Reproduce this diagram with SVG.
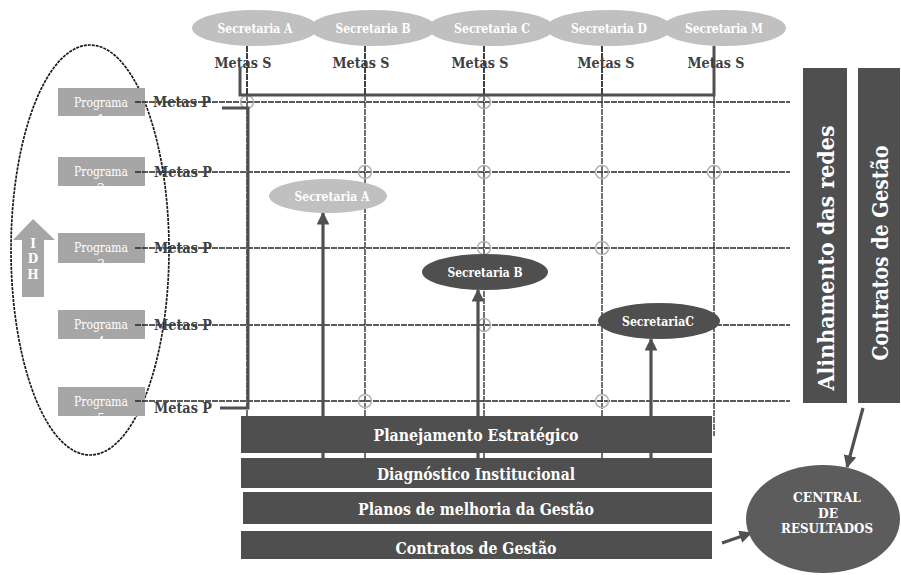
<svg xmlns="http://www.w3.org/2000/svg" width="901" height="575" viewBox="0 0 901 575">
<style>
.lt{fill:#c0c0c0}
.dk{fill:#4f4f4f}
.prog{fill:#a6a6a6}
.wt{fill:#fff;font-family:'DejaVu Serif',serif;font-weight:bold;text-anchor:middle}
.pt{fill:#fff;font-family:'DejaVu Serif',serif;font-size:12.7px;text-anchor:middle}
.lbl{fill:#404040;font-family:'DejaVu Serif',serif;font-weight:bold;font-size:15.4px;text-anchor:middle}
.grid{stroke:#262626;stroke-width:1.3;stroke-dasharray:6 1;fill:none}
.thick{stroke:#505050;stroke-width:3;fill:none}
.circ{stroke:#b4b4b4;stroke-width:1.5;fill:none}
.arr{stroke:#505050;stroke-width:3.2;fill:none;marker-end:url(#ah)}
</style>
<defs>
<marker id="ah" viewBox="0 0 10 10" refX="9" refY="5" markerWidth="4" markerHeight="4" orient="auto" markerUnits="strokeWidth">
<path d="M0,0 L10,5 L0,10 z" fill="#505050"/>
</marker>
<clipPath id="c1"><rect x="58" y="88" width="87" height="28"/></clipPath>
<clipPath id="c2"><rect x="58" y="157" width="87" height="29"/></clipPath>
<clipPath id="c3"><rect x="58" y="233" width="87" height="30"/></clipPath>
<clipPath id="c4"><rect x="58" y="310" width="87" height="29"/></clipPath>
<clipPath id="c5"><rect x="58" y="387" width="87" height="29"/></clipPath>
</defs>
<rect width="901" height="575" fill="#fff"/>

<!-- dashed ellipse -->
<g id="idh-region">
<ellipse cx="90" cy="250" rx="79" ry="205" fill="none" stroke="#1a1a1a" stroke-width="1.7" stroke-dasharray="3 1"/>
</g>

<!-- programs -->
<g id="programa1"><rect class="prog" x="58" y="88" width="87" height="28"/><g clip-path="url(#c1)"><text class="pt" x="101" y="107" textLength="54" lengthAdjust="spacingAndGlyphs">Programa</text><text class="pt" x="101" y="124">1</text></g></g>
<g id="programa2"><rect class="prog" x="58" y="157" width="87" height="29"/><g clip-path="url(#c2)"><text class="pt" x="101" y="176" textLength="54" lengthAdjust="spacingAndGlyphs">Programa</text><text class="pt" x="101" y="193">2</text></g></g>
<g id="programa3"><rect class="prog" x="58" y="233" width="87" height="30"/><g clip-path="url(#c3)"><text class="pt" x="101" y="252" textLength="54" lengthAdjust="spacingAndGlyphs">Programa</text><text class="pt" x="101" y="269">3</text></g></g>
<g id="programa4"><rect class="prog" x="58" y="310" width="87" height="29"/><g clip-path="url(#c4)"><text class="pt" x="101" y="329" textLength="54" lengthAdjust="spacingAndGlyphs">Programa</text><text class="pt" x="101" y="346">4</text></g></g>
<g id="programa5"><rect class="prog" x="58" y="387" width="87" height="29"/><g clip-path="url(#c5)"><text class="pt" x="101" y="406" textLength="54" lengthAdjust="spacingAndGlyphs">Programa</text><text class="pt" x="101" y="423">5</text></g></g>

<!-- IDH arrow -->
<g id="idh">
<path d="M22,297 L22,240 L13,240 L33,219 L55,240 L44,240 L44,297 z" fill="#a6a6a6"/>
<text class="wt" x="33" y="248" font-size="12">I</text>
<text class="wt" x="33" y="263" font-size="12">D</text>
<text class="wt" x="33" y="279" font-size="12">H</text>
</g>

<!-- connectors: grid and brackets -->
<g id="connectors">
<g class="grid">
<line x1="135" y1="102" x2="790" y2="102"/>
<line x1="135" y1="172" x2="790" y2="172"/>
<line x1="135" y1="248" x2="790" y2="248"/>
<line x1="135" y1="325" x2="790" y2="325"/>
<line x1="135" y1="401" x2="790" y2="401"/>
<line x1="247" y1="46" x2="247" y2="416"/>
<line x1="365" y1="46" x2="365" y2="458"/>
<line x1="484" y1="46" x2="484" y2="458"/>
<line x1="602" y1="46" x2="602" y2="458"/>
<line x1="714" y1="95" x2="714" y2="436"/>
</g>
<g class="circ">
<circle cx="247" cy="102" r="6.5"/>
<circle cx="484" cy="102" r="6.5"/>
<circle cx="365" cy="172" r="6.5"/>
<circle cx="484" cy="172" r="6.5"/>
<circle cx="602" cy="172" r="6.5"/>
<circle cx="714" cy="172" r="6.5"/>
<circle cx="484" cy="248" r="6.5"/>
<circle cx="602" cy="248" r="6.5"/>
<circle cx="484" cy="325" r="6.5"/>
<circle cx="365" cy="401" r="6.5"/>
<circle cx="602" cy="401" r="6.5"/>
</g>
<polyline class="thick" points="240,68 240,95 714,95 714,46"/>
<polyline class="thick" points="222,108 248,108 248,408 220,408"/>
<line class="arr" x1="323" y1="458" x2="323" y2="213"/>
<line class="arr" x1="478" y1="458" x2="478" y2="290"/>
<line class="arr" x1="651" y1="458" x2="651" y2="339"/>
<line class="arr" x1="863" y1="408" x2="847" y2="467"/>
<line class="arr" x1="722" y1="543" x2="751" y2="533"/>
</g>

<!-- Metas P labels -->
<g id="metas-p">
<text class="lbl" x="182" y="107" textLength="58" lengthAdjust="spacingAndGlyphs">Metas P</text>
<text class="lbl" x="183" y="177" textLength="58" lengthAdjust="spacingAndGlyphs">Metas P</text>
<text class="lbl" x="183" y="253" textLength="58" lengthAdjust="spacingAndGlyphs">Metas P</text>
<text class="lbl" x="183" y="330" textLength="58" lengthAdjust="spacingAndGlyphs">Metas P</text>
<text class="lbl" x="183" y="413" textLength="58" lengthAdjust="spacingAndGlyphs">Metas P</text>
</g>

<!-- Top secretarias -->
<g id="sec-top-a"><ellipse class="lt" cx="255" cy="28" rx="63" ry="18"/><text class="wt" x="255" y="33" font-size="12.7" textLength="75" lengthAdjust="spacingAndGlyphs">Secretaria A</text></g>
<g id="sec-top-b"><ellipse class="lt" cx="373" cy="28" rx="63" ry="18"/><text class="wt" x="373" y="33" font-size="12.7" textLength="75" lengthAdjust="spacingAndGlyphs">Secretaria B</text></g>
<g id="sec-top-c"><ellipse class="lt" cx="491" cy="28" rx="63" ry="18"/><text class="wt" x="492" y="33" font-size="12.7" textLength="76" lengthAdjust="spacingAndGlyphs">Secretaria C</text></g>
<g id="sec-top-d"><ellipse class="lt" cx="609" cy="28" rx="63" ry="18"/><text class="wt" x="609" y="33" font-size="12.7" textLength="76" lengthAdjust="spacingAndGlyphs">Secretaria D</text></g>
<g id="sec-top-m"><ellipse class="lt" cx="724" cy="28" rx="62" ry="18"/><text class="wt" x="724" y="33" font-size="12.7" textLength="78" lengthAdjust="spacingAndGlyphs">Secretaria M</text></g>
<g id="sec-top-lines" class="grid">
<line x1="247" y1="46" x2="247" y2="95"/>
<line x1="365" y1="46" x2="365" y2="95"/>
<line x1="484" y1="46" x2="484" y2="95"/>
<line x1="602" y1="46" x2="602" y2="95"/>
</g>

<!-- Metas S labels -->
<g id="metas-s">
<text class="lbl" x="243" y="68" textLength="57" lengthAdjust="spacingAndGlyphs">Metas S</text>
<text class="lbl" x="361" y="68" textLength="57" lengthAdjust="spacingAndGlyphs">Metas S</text>
<text class="lbl" x="480" y="68" textLength="57" lengthAdjust="spacingAndGlyphs">Metas S</text>
<text class="lbl" x="606" y="68" textLength="57" lengthAdjust="spacingAndGlyphs">Metas S</text>
<text class="lbl" x="716" y="68" textLength="57" lengthAdjust="spacingAndGlyphs">Metas S</text>
</g>

<!-- middle secretarias -->
<g id="sec-a"><ellipse class="lt" cx="328" cy="196" rx="59" ry="17"/><text class="wt" x="332" y="201" font-size="12.7" textLength="75" lengthAdjust="spacingAndGlyphs">Secretaria A</text></g>
<g id="sec-b"><ellipse class="dk" cx="485" cy="272" rx="63" ry="18"/><text class="wt" x="485" y="277" font-size="12.7" textLength="75" lengthAdjust="spacingAndGlyphs">Secretaria B</text></g>
<g id="sec-c"><ellipse class="dk" cx="659" cy="321" rx="61" ry="18"/><text class="wt" x="658" y="326" font-size="12.7" textLength="72" lengthAdjust="spacingAndGlyphs">SecretariaC</text></g>

<!-- bottom bars -->
<g id="planejamento"><rect class="dk" x="241" y="416" width="471" height="37"/><text class="wt" x="476" y="441" font-size="16.7" textLength="205" lengthAdjust="spacingAndGlyphs">Planejamento Estratégico</text></g>
<g id="diagnostico"><rect class="dk" x="241" y="458" width="471" height="30"/><text class="wt" x="476" y="480" font-size="16.7" textLength="198" lengthAdjust="spacingAndGlyphs">Diagnóstico Institucional</text></g>
<g id="planos"><rect class="dk" x="243" y="492" width="469" height="32"/><text class="wt" x="476" y="515" font-size="16.7" textLength="236" lengthAdjust="spacingAndGlyphs">Planos de melhoria da Gestão</text></g>
<g id="contratos"><rect class="dk" x="241" y="531" width="471" height="28"/><text class="wt" x="476" y="554" font-size="16.7" textLength="161" lengthAdjust="spacingAndGlyphs">Contratos de Gestão</text></g>

<!-- right vertical bars -->
<g id="alinhamento"><rect class="dk" x="803" y="68" width="44" height="335"/><text class="wt" transform="translate(834,258) rotate(-90)" font-size="22.6" textLength="265" lengthAdjust="spacingAndGlyphs">Alinhamento das redes</text></g>
<g id="contratos-vert"><rect class="dk" x="858" y="68" width="42" height="335"/><text class="wt" transform="translate(888,253) rotate(-90)" font-size="22.6" textLength="215" lengthAdjust="spacingAndGlyphs">Contratos de Gestão</text></g>

<!-- central -->
<g id="central"><ellipse cx="823" cy="519" rx="77" ry="54" fill="#5c5c5c"/>
<text class="wt" x="827" y="502" font-size="12.2" textLength="68" lengthAdjust="spacingAndGlyphs">CENTRAL</text>
<text class="wt" x="828" y="518" font-size="12.2" textLength="20" lengthAdjust="spacingAndGlyphs">DE</text>
<text class="wt" x="827" y="533" font-size="12.2" textLength="92" lengthAdjust="spacingAndGlyphs">RESULTADOS</text>
</g>
</svg>
